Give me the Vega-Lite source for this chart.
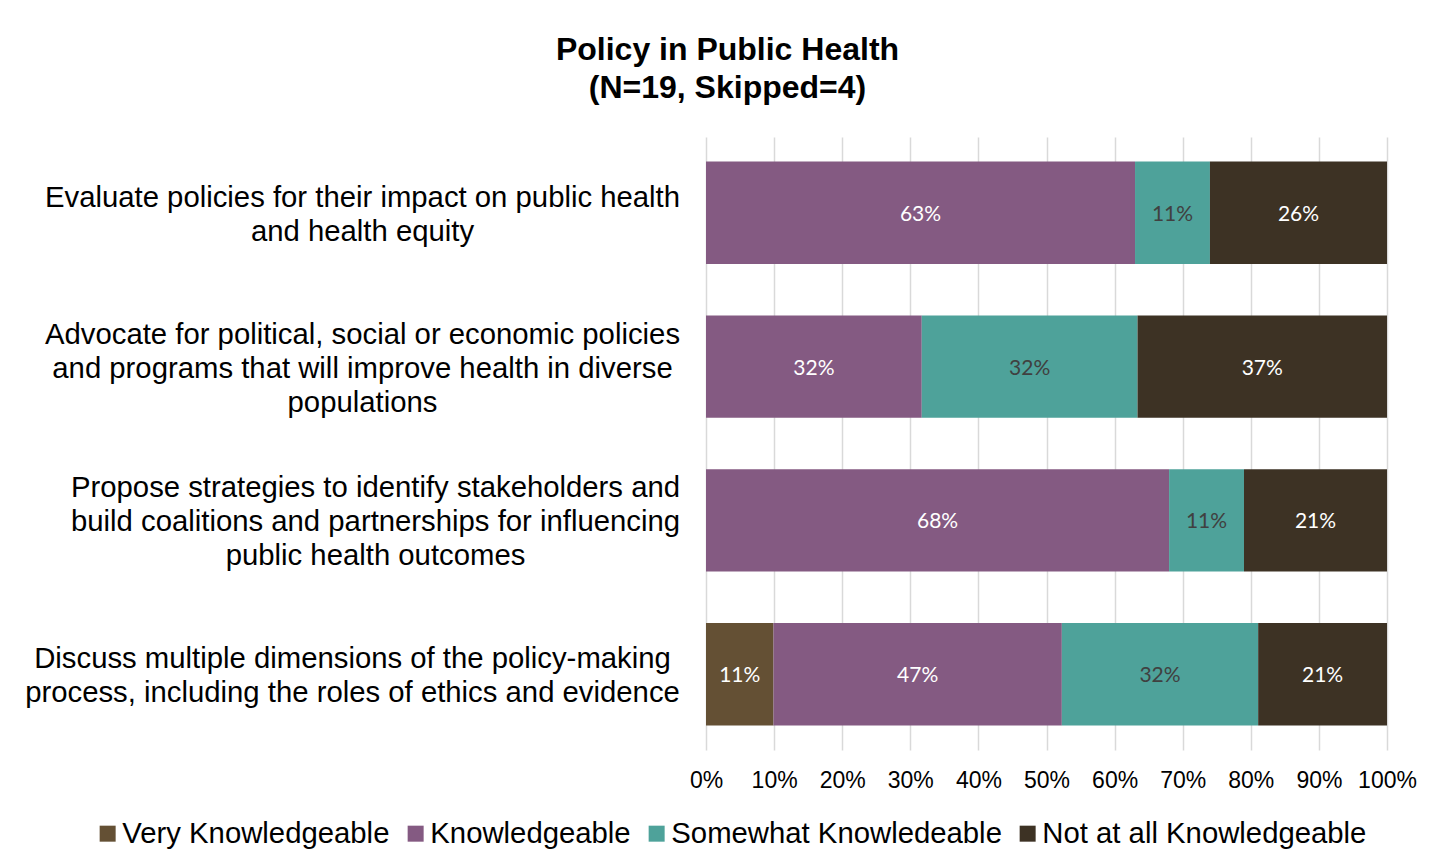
{
  "$schema": "https://vega.github.io/schema/vega-lite/v6.json",
  "width": 681,
  "height": 613,
  "autosize": "none",
  "padding": {"left": 706, "top": 137, "right": 66, "bottom": 117},
  "background": "white",
  "title": {
    "text": ["Policy in Public Health", "(N=19, Skipped=4)"],
    "font": "Liberation Sans",
    "fontSize": 32,
    "fontWeight": "bold",
    "color": "#000000",
    "anchor": "middle",
    "dx": -319,
    "offset": 32,
    "lineHeight": 38
  },
  "data": {
    "values": [
      {"question": "q1", "level": "Knowledgeable", "value": 63, "label": "63%", "ord": 1},
      {"question": "q1", "level": "Somewhat Knowledeable", "value": 11, "label": "11%", "ord": 2},
      {"question": "q1", "level": "Not at all Knowledgeable", "value": 26, "label": "26%", "ord": 3},
      {"question": "q2", "level": "Knowledgeable", "value": 32, "label": "32%", "ord": 1},
      {"question": "q2", "level": "Somewhat Knowledeable", "value": 32, "label": "32%", "ord": 2},
      {"question": "q2", "level": "Not at all Knowledgeable", "value": 37, "label": "37%", "ord": 3},
      {"question": "q3", "level": "Knowledgeable", "value": 68, "label": "68%", "ord": 1},
      {"question": "q3", "level": "Somewhat Knowledeable", "value": 11, "label": "11%", "ord": 2},
      {"question": "q3", "level": "Not at all Knowledgeable", "value": 21, "label": "21%", "ord": 3},
      {"question": "q4", "level": "Very Knowledgeable", "value": 11, "label": "11%", "ord": 0},
      {"question": "q4", "level": "Knowledgeable", "value": 47, "label": "47%", "ord": 1},
      {"question": "q4", "level": "Somewhat Knowledeable", "value": 32, "label": "32%", "ord": 2},
      {"question": "q4", "level": "Not at all Knowledgeable", "value": 21, "label": "21%", "ord": 3}
    ]
  },
  "encoding": {
    "y": {
      "field": "question",
      "type": "nominal",
      "sort": ["q1", "q2", "q3", "q4"],
      "scale": {"paddingInner": 0.335, "paddingOuter": 0.16},
      "axis": {
        "title": null,
        "ticks": false,
        "domain": false,
        "labelAlign": "center",
        "labelPadding": {
          "condition": [
            {"test": "datum.value === 'q3'", "value": 331},
            {"test": "datum.value === 'q4'", "value": 354}
          ],
          "value": 344
        },
        "labelFont": "Liberation Sans",
        "labelFontSize": 29.3,
        "labelColor": "#000000",
        "labelLineHeight": 34,
        "labelLimit": 0,
        "labelOffset": {
          "condition": [
            {"test": "datum.value === 'q2' || datum.value === 'q3'", "value": -32}
          ],
          "value": -15
        },
        "labelExpr": "datum.value === 'q1' ? ['Evaluate policies for their impact on public health', 'and health equity'] : datum.value === 'q2' ? ['Advocate for political, social or economic policies', 'and programs that will improve health in diverse', 'populations'] : datum.value === 'q3' ? ['Propose strategies to identify stakeholders and', 'build coalitions and partnerships for influencing', 'public health outcomes'] : ['Discuss multiple dimensions of the policy-making', 'process, including the roles of ethics and evidence']"
      }
    }
  },
  "layer": [
    {
      "mark": {"type": "bar"},
      "encoding": {
        "x": {
          "aggregate": "sum",
          "field": "value",
          "type": "quantitative",
          "stack": "normalize",
          "scale": {"domain": [0, 1]},
          "axis": {
            "title": null,
            "format": ".0%",
            "values": [0, 0.1, 0.2, 0.3, 0.4, 0.5, 0.6, 0.7, 0.8, 0.9, 1],
            "ticks": false,
            "domain": false,
            "grid": true,
            "gridColor": "#D9D9D9",
            "gridWidth": 1.5,
            "labelFont": "Liberation Sans",
            "labelFontSize": 23,
            "labelColor": "#000000",
            "labelPadding": 19,
            "labelFlush": false
          }
        },
        "color": {
          "field": "level",
          "type": "nominal",
          "scale": {
            "domain": ["Very Knowledgeable", "Knowledgeable", "Somewhat Knowledeable", "Not at all Knowledgeable"],
            "range": ["#645034", "#845A82", "#4EA29A", "#3D3224"]
          },
          "legend": {
            "title": null,
            "orient": "none",
            "direction": "horizontal",
            "legendX": -613,
            "legendY": 682,
            "symbolType": "square",
            "symbolSize": 256,
            "symbolStrokeWidth": 0,
            "symbolOpacity": 1,
            "labelFont": "Liberation Sans",
            "labelFontSize": 29.3,
            "labelColor": "#000000",
            "labelOffset": 0,
            "columnPadding": 11,
            "labelLimit": 0
          }
        },
        "order": {"field": "ord", "type": "quantitative"}
      }
    },
    {
      "mark": {"type": "text", "font": "Lato", "fontSize": 21, "baseline": "middle", "dy": 2},
      "encoding": {
        "x": {
          "aggregate": "sum",
          "field": "value",
          "type": "quantitative",
          "stack": "normalize",
          "bandPosition": 0.5
        },
        "detail": {"field": "level", "type": "nominal"},
        "order": {"field": "ord", "type": "quantitative"},
        "text": {"field": "label", "type": "nominal"},
        "color": {
          "condition": {"test": "datum.level === 'Somewhat Knowledeable'", "value": "#404040"},
          "value": "#FFFFFF"
        }
      }
    }
  ],
  "config": {
    "view": {"stroke": null}
  }
}
